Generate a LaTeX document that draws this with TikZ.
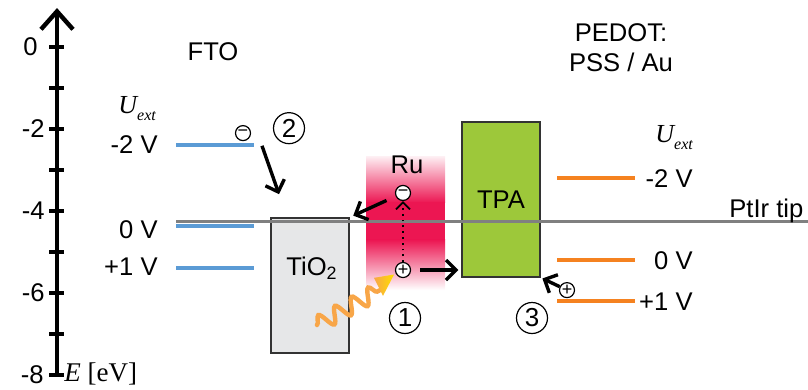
\documentclass[tikz,border=0pt]{standalone}
\usepackage{fontspec}
\setmainfont{Liberation Sans}
\newfontfamily\timesfont{Liberation Serif}
\usetikzlibrary{arrows.meta,decorations.pathmorphing}
\definecolor{ftoblue}{RGB}{91,155,213}
\definecolor{pedotorange}{RGB}{245,130,32}
\definecolor{rured}{RGB}{236,22,82}
\definecolor{tpagreen}{RGB}{157,200,58}
\definecolor{tiogray}{RGB}{230,231,232}
\definecolor{tipgray}{RGB}{128,128,128}
\definecolor{photon}{RGB}{248,166,72}
\definecolor{photontip}{RGB}{255,222,0}
\tikzset{lbl/.style = {inner sep=0pt, font=\fontsize{12.8}{15}\selectfont},
  level/.style = {line width=2pt},
  arr/.style = {line width=1.7pt, -{Straight Barb[length=5pt,width=10pt]}},
  band/.style = {draw=black!80, line width=0.6pt, minimum width=39pt, inner sep=0pt},
  num/.style = {circle, draw, line width=0.6pt, minimum size=15.5pt, inner sep=0pt, font=\fontsize{13}{13}\selectfont},
  charge/.style = {circle, draw, fill=white, line width=0.6pt, minimum size=7.5pt, inner sep=0pt, font=\fontsize{9}{9}\selectfont},
  uext/.style = {inner sep=0pt, font=\timesfont\itshape\fontsize{13}{15}\selectfont}}

\begin{document}
\begin{tikzpicture}[x=0.5pt, y=20.5pt]
  \useasboundingbox (0,-8.366) rectangle (808,1.146);
  \draw[line width=2.2pt, -{Straight Barb[length=9pt,width=16pt]}] (57,-8) -- (57,0.95);
  \foreach \e in {0,-1,...,-8} \draw[line width=1.6pt] (49,\e) -- (64,\e);
  \foreach \e/\r in {0/38,-2/45,-4/45,-6/45,-8/44}
    \node[lbl, anchor=east] (lab\e) at (\r,\e) {\e};
  \node[lbl, anchor=base west, font=\timesfont\fontsize{13.5}{15}\selectfont] (eaxis) at (64,-8.15) {\textit{E} [eV]};

  \node[lbl] (fto) at (213,-0.12) {FTO};
  \node[lbl, align=center] (pedot) at (621,-0.02) {PEDOT:\\PSS / Au};

  \shade[top color=rured!8, bottom color=rured] (366,-2.68) rectangle (445,-3.80);
  \fill[rured] (366,-3.78) rectangle (445,-4.72);
  \shade[top color=rured, bottom color=white] (366,-4.70) rectangle (445,-5.93);
  \node[lbl] (ru) at (407,-2.88) {Ru};

  \node[band, fill=tiogray, minimum height=67.5pt] (tio2) at (310,-5.815) {};
  \node[lbl] (tio2lbl) at (312,-5.39) {TiO\textsubscript{2}};
  \node[band, fill=tpagreen, minimum height=77.5pt, font=\fontsize{12.8}{15}\selectfont] (tpa) at (501,-3.72) {TPA};

  \foreach \e in {-2.39,-4.36,-5.39} \draw[level, ftoblue] (176,\e) -- (254,\e);
  \foreach \e in {-3.2,-5.2,-6.2} \draw[level, pedotorange] (557,\e) -- (635,\e);
  \draw[line width=1.8pt, tipgray] (176,-4.26) -- (808,-4.26);
  \node[lbl, anchor=base west] (tip) at (729,-4.15) {PtIr tip};

  \node[uext, anchor=base west] (uleft) at (118,-1.61) {U\raisebox{-0.6ex}{\fontsize{8}{8}\selectfont ext}};
  \node[uext, anchor=base west] (uright) at (655,-2.32) {U\raisebox{-0.6ex}{\fontsize{8}{8}\selectfont ext}};
  \foreach \e/\v [count=\i] in {-2.39/-2 V,-4.45/0 V,-5.37/+1 V}
    \node[lbl, anchor=east] (vleft\i) at (158,\e) {\v};
  \foreach \e/\v [count=\i] in {-3.2/-2 V,-5.2/0 V,-6.2/+1 V}
    \node[lbl, anchor=east] (vright\i) at (693,\e) {\v};

  \coordinate (ph0) at (317,-6.78);
  \coordinate (ph1) at (380,-5.93);
  \draw[photon, line width=2.2pt, line cap=round, decorate, decoration={snake, segment length=9.5pt, amplitude=4pt}] (ph0) -- (ph1);
  \shade[left color=photon, right color=photontip] (374,-5.63) -- (394,-5.55) -- (383,-6.07) -- cycle;

  \node[charge] (efto) at (243,-2.1) {−};
  \node[charge] (eru) at (403,-3.56) {−};
  \node[charge] (hru) at (403,-5.44) {+};
  \node[charge] (htpa) at (567,-5.93) {+};
  \node[num] (n1) at (405,-6.61) {1};
  \node[num] (n2) at (289,-1.98) {2};
  \node[num] (n3) at (532,-6.61) {3};

  \coordinate (a2s) at (262,-2.41);
  \coordinate (a2e) at (279,-3.59);
  \draw[arr] (a2s) -- (a2e);
  \draw[arr, shorten <=5pt, shorten >=2pt] (eru) -- (tio2.north east);
  \draw[arr, shorten <=4.5pt, shorten >=1.5pt] (hru) -- (hru -| tpa.west);
  \draw[dotted, line width=0.9pt, -{Straight Barb[length=3.5pt,width=7pt]}] (hru) -- (eru);
  \draw[arr, shorten >=1pt] (htpa) -- (tpa.south east);
\end{tikzpicture}
\end{document}
